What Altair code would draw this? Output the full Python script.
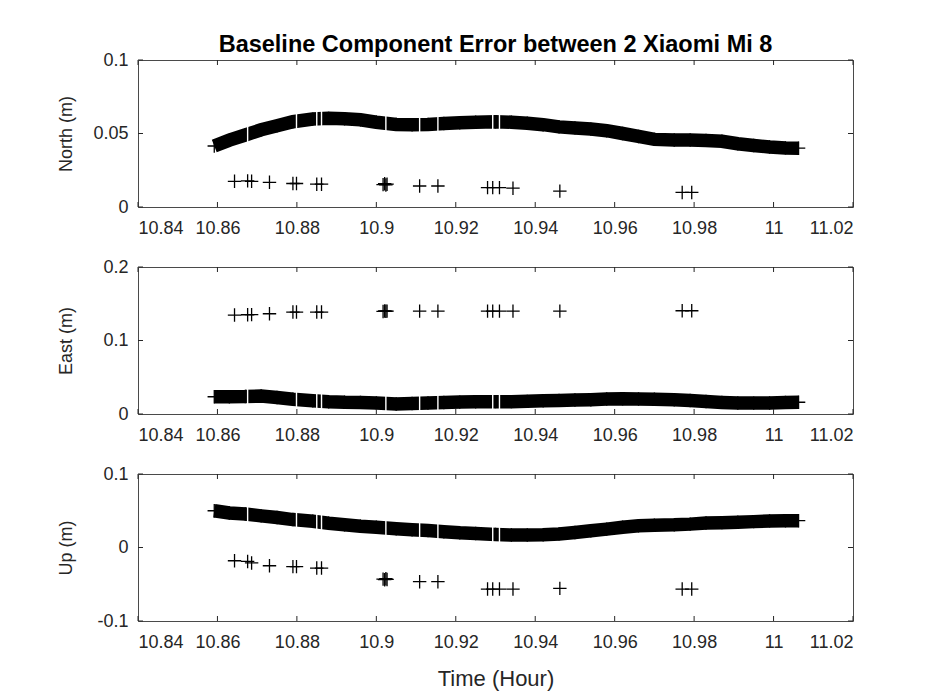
import altair as alt
import pandas as pd

TITLE = "Baseline Component Error between 2 Xiaomi Mi 8"
X_TITLE = "Time (Hour)"
X_TICKS = [10.84, 10.86, 10.88, 10.90, 10.92, 10.94, 10.96, 10.98, 11.00, 11.02]

# dense (1 Hz) solution, read along the centre of the black band
band_time = [10.8592, 10.863, 10.867, 10.871, 10.875, 10.879, 10.884, 10.888,
             10.892, 10.896, 10.900, 10.905, 10.909, 10.913, 10.917, 10.921,
             10.925, 10.930, 10.934, 10.938, 10.942, 10.946, 10.950, 10.954,
             10.958, 10.962, 10.966, 10.970, 10.975, 10.979, 10.983, 10.987,
             10.991, 10.995, 10.999, 11.003, 11.0063]
north_band = [0.0415, 0.0455, 0.0490, 0.0525, 0.0553, 0.0580, 0.0598, 0.0603,
              0.0600, 0.0593, 0.0577, 0.0562, 0.0560, 0.0562, 0.0568, 0.0573,
              0.0577, 0.0580, 0.0577, 0.0570, 0.0560, 0.0545, 0.0538, 0.0530,
              0.0519, 0.0500, 0.0480, 0.0460, 0.0456, 0.0456, 0.0453, 0.0447,
              0.0430, 0.0418, 0.0408, 0.0402, 0.0400]
east_band = [0.0235, 0.0235, 0.0237, 0.0245, 0.0225, 0.0200, 0.0180, 0.0167,
             0.0160, 0.0158, 0.0150, 0.0137, 0.0143, 0.0150, 0.0157, 0.0162,
             0.0167, 0.0168, 0.0168, 0.0172, 0.0180, 0.0185, 0.0190, 0.0195,
             0.0203, 0.0207, 0.0205, 0.0200, 0.0193, 0.0183, 0.0170, 0.0158,
             0.0150, 0.0148, 0.0150, 0.0158, 0.0160]
up_band = [0.0500, 0.0470, 0.0455, 0.0430, 0.0408, 0.0380, 0.0358, 0.0330,
           0.0310, 0.0290, 0.0275, 0.0255, 0.0242, 0.0230, 0.0215, 0.0200,
           0.0190, 0.0178, 0.0170, 0.0170, 0.0172, 0.0185, 0.0205, 0.0228,
           0.0250, 0.0275, 0.0295, 0.0302, 0.0308, 0.0318, 0.0333, 0.0338,
           0.0343, 0.0352, 0.0362, 0.0365, 0.0365]

# missing epochs inside the dense band (thin white gaps) and band level there
gap_time = [10.8676, 10.8799, 10.8850, 10.8862, 10.9024, 10.9109, 10.9155,
            10.9293, 10.9310]
north_gap = [0.0495, 0.0585, 0.0599, 0.0601, 0.0570, 0.0561, 0.0565, 0.0580,
             0.0580]
east_gap = [0.0238, 0.0196, 0.0178, 0.0175, 0.0144, 0.0146, 0.0154, 0.0168,
            0.0168]
up_gap = [0.0452, 0.0375, 0.0355, 0.0350, 0.0265, 0.0236, 0.0222, 0.0180,
          0.0176]

# isolated epochs (outliers)
out_time = [10.8643, 10.8676, 10.8686, 10.8731, 10.8790, 10.8799, 10.8850,
            10.8862, 10.9017, 10.9021, 10.9024, 10.9027, 10.9109, 10.9155,
            10.9280, 10.9293, 10.9310, 10.9344, 10.9462, 10.9770, 10.9794]
north_out = [0.0175, 0.0178, 0.0175, 0.0168, 0.0160, 0.0160, 0.0155, 0.0155,
             0.0152, 0.0158, 0.0150, 0.0155, 0.0143, 0.0143, 0.0132, 0.0132,
             0.0132, 0.0128, 0.0108, 0.0099, 0.0099]
east_out = [0.1346, 0.1350, 0.1352, 0.1364, 0.1387, 0.1387, 0.1387, 0.1387,
            0.1395, 0.1402, 0.1398, 0.1400, 0.1400, 0.1400, 0.1400, 0.1400,
            0.1400, 0.1400, 0.1400, 0.1405, 0.1405]
up_out = [-0.0180, -0.0190, -0.0210, -0.0248, -0.0260, -0.0260, -0.0280,
          -0.0280, -0.0430, -0.0438, -0.0425, -0.0435, -0.0465, -0.0465,
          -0.0565, -0.0565, -0.0565, -0.0565, -0.0556, -0.0565, -0.0565]

panels = [
    ("North (m)", north_band, north_gap, north_out, [0, 0.1], [0, 0.05, 0.1]),
    ("East (m)", east_band, east_gap, east_out, [0, 0.2], [0, 0.1, 0.2]),
    ("Up (m)", up_band, up_gap, up_out, [-0.1, 0.1], [-0.1, 0, 0.1]),
]

W, H = 715, 147
FONT = "Liberation Sans"
AXC = "#262626"
CROSS = "M-1,0L1,0M0,-1L0,1"
NUM_EXPR = ("datum.value < 0 ? '-' + format(-datum.value, '~g') : "
            "format(datum.value, '.6~g')")


def make_panel(label, band, gap, out, dom, yt, last):
    band_df = pd.DataFrame({"t": band_time, "v": band})
    gap_df = pd.DataFrame({"t": gap_time, "v": gap})
    out_df = pd.DataFrame({"t": out_time, "v": out})
    xt_df = pd.DataFrame({"t": X_TICKS})
    yt_df = pd.DataFrame({"v": yt})

    xs = alt.Scale(domain=[10.84, 11.02], nice=False, zero=False)
    ys = alt.Scale(domain=dom, nice=False, zero=False)
    xaxis = alt.Axis(values=X_TICKS, labelExpr=NUM_EXPR, ticks=False,
                     domain=False, grid=False, labelPadding=12, labelFont=FONT,
                     labelFontSize=18, labelColor=AXC, titleFont=FONT,
                     titleFontSize=22, titleFontWeight="normal", titleColor=AXC,
                     titlePadding=17, title=X_TITLE if last else None)
    yaxis = alt.Axis(values=yt, labelExpr=NUM_EXPR, ticks=False, domain=False,
                     grid=False, labelPadding=10, labelFont=FONT,
                     labelFontSize=18, labelColor=AXC, titleFont=FONT,
                     titleFontSize=18, titleFontWeight="normal", titleColor=AXC,
                     title=label, titleX=-63, titleY=H / 2,
                     titleAnchor="middle")

    x = alt.X("t:Q", scale=xs, axis=xaxis)
    y = alt.Y("v:Q", scale=ys, axis=yaxis)

    band_line = alt.Chart(band_df).mark_line(
        color="black", strokeWidth=13.5, strokeCap="butt", strokeJoin="miter"
    ).encode(x=x, y=y)
    band_pts = alt.Chart(band_df).mark_point(
        shape=CROSS, size=180, filled=False, stroke="black", strokeWidth=1.3,
        opacity=1
    ).encode(x="t:Q", y="v:Q")
    gaps = alt.Chart(gap_df).mark_tick(
        color="white", orient="vertical", size=18, thickness=1.4, opacity=1
    ).encode(x="t:Q", y="v:Q")
    out_pts = alt.Chart(out_df).mark_point(
        shape=CROSS, size=180, filled=False, stroke="black", strokeWidth=1.3,
        opacity=1
    ).encode(x="t:Q", y="v:Q")

    tick_bot = alt.Chart(xt_df).mark_rule(color=AXC, strokeWidth=1).encode(
        x="t:Q", y=alt.value(H), y2=alt.value(H - 5))
    tick_top = alt.Chart(xt_df).mark_rule(color=AXC, strokeWidth=1).encode(
        x="t:Q", y=alt.value(0), y2=alt.value(5))
    tick_l = alt.Chart(yt_df).mark_rule(color=AXC, strokeWidth=1).encode(
        y="v:Q", x=alt.value(0), x2=alt.value(5))
    tick_r = alt.Chart(yt_df).mark_rule(color=AXC, strokeWidth=1).encode(
        y="v:Q", x=alt.value(W - 5), x2=alt.value(W))

    return alt.layer(band_line, band_pts, gaps, out_pts, tick_bot, tick_top,
                     tick_l, tick_r).properties(width=W, height=H)


charts = [make_panel(*p, last=(i == 2)) for i, p in enumerate(panels)]
charts[0] = charts[0].properties(
    title=alt.TitleParams(TITLE, frame="group", anchor="middle", font=FONT,
                          fontSize=23.5, fontWeight="bold", color="black",
                          offset=-5)
)

chart = alt.vconcat(*charts, spacing=60, bounds="flush").properties(
    padding={"left": 48, "top": 24, "right": 5, "bottom": 5},
    background="white",
).configure_view(stroke="#4a4a4a", strokeWidth=1)

chart.save("out.html", embed_options={"renderer": "svg", "actions": False})
